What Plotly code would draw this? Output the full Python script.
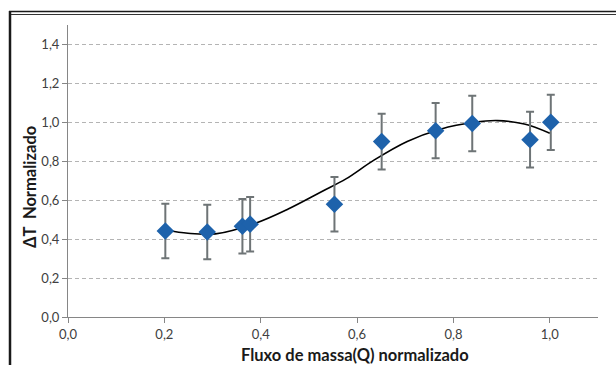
import plotly.graph_objects as go

# Data
flux = [0.202, 0.289, 0.362, 0.378, 0.553, 0.651, 0.763, 0.839, 0.959, 1.002]
delta_t = [0.442, 0.437, 0.466, 0.477, 0.579, 0.901, 0.957, 0.994, 0.911, 1.000]
err = [0.14, 0.14, 0.14, 0.14, 0.14, 0.143, 0.142, 0.142, 0.143, 0.142]

# Trend curve
trend_x = [0.204, 0.249, 0.306, 0.389, 0.457, 0.527, 0.576, 0.635, 0.704, 0.773, 0.843, 0.891, 0.947, 1.0]
trend_y = [0.447, 0.430, 0.427, 0.482, 0.555, 0.645, 0.708, 0.806, 0.902, 0.965, 1.000, 1.009, 0.991, 0.944]

x_ticks = [0.0, 0.2, 0.4, 0.6, 0.8, 1.0]
y_ticks = [0.0, 0.2, 0.4, 0.6, 0.8, 1.0, 1.2, 1.4]

W, H = 616, 365
L, R, T, B = 68, 18, 25, 48
pw, ph = W - L - R, H - T - B

def px(x):
    return (x - L) / pw

def py(y):
    return (H - B - y) / ph

fig = go.Figure()

fig.add_trace(go.Scatter(
    x=trend_x, y=trend_y, mode="lines",
    line=dict(color="#000000", width=1.6, shape="spline", smoothing=1.0),
    hoverinfo="skip", showlegend=False))

fig.add_trace(go.Scatter(
    x=flux, y=delta_t, mode="markers",
    marker=dict(symbol="diamond", size=13.5, color="#1E62AB"),
    error_y=dict(type="data", array=err, visible=True, color="#6E7476",
                 thickness=2, width=4),
    showlegend=False))

axis_font = dict(family="Lato, Liberation Sans, sans-serif", size=13, color="#404040")
title_font = dict(family="Lato, Liberation Sans, sans-serif", size=16.5, color="#1A1A1A")

fig.update_layout(
    width=W, height=H,
    margin=dict(l=L, r=R, t=T, b=B, pad=0),
    paper_bgcolor="white", plot_bgcolor="white",
    separators=",.",
    showlegend=False,
    xaxis=dict(range=[0, 1.1], tickvals=x_ticks, tickformat=".1f",
               showgrid=False, zeroline=False,
               showline=True, linecolor="#868686", linewidth=1,
               ticks="outside", ticklen=5, tickcolor="#868686",
               tickfont=axis_font),
    yaxis=dict(range=[0, 1.5], tickvals=y_ticks, tickformat=".1f",
               showgrid=True, gridcolor="#B4B4B4", griddash="4px,3px", gridwidth=1,
               zeroline=False,
               showline=True, linecolor="#868686", linewidth=1,
               ticks="outside", ticklen=5, tickcolor="#868686",
               tickfont=axis_font),
    annotations=[
        dict(text="<b>Fluxo de massa(Q) normalizado</b>", xref="paper", yref="paper",
             x=px(355), y=py(355), showarrow=False, xanchor="center", yanchor="middle",
             font=title_font),
        dict(text="<b>ΔT  Normalizado</b>", xref="paper", yref="paper",
             x=px(30), y=py(187), showarrow=False, xanchor="center", yanchor="middle",
             textangle=-90, font=title_font),
    ],
    shapes=[
        dict(type="line", xref="paper", yref="paper", x0=px(10), x1=px(10),
             y0=py(11), y1=py(370), line=dict(color="#1A1A1A", width=2.5)),
        dict(type="line", xref="paper", yref="paper", x0=px(9), x1=px(620),
             y0=py(11.5), y1=py(11.5), line=dict(color="#1A1A1A", width=1.5)),
        dict(type="line", xref="paper", yref="paper", x0=px(11), x1=px(620),
             y0=py(14.5), y1=py(14.5), line=dict(color="#333333", width=1.2)),
    ],
)

fig.write_html("out.html")
